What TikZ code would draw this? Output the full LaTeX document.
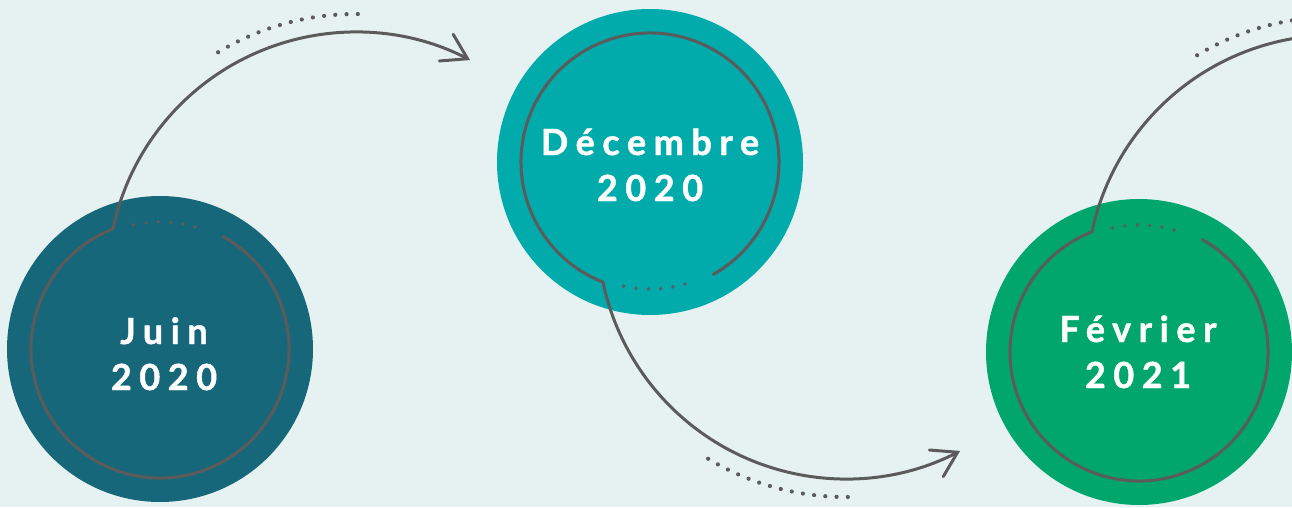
\documentclass[tikz,border=0pt]{standalone}
\usepackage{fontspec}
\setmainfont{Lato}
\newfontfamily\labfont{Lato}[LetterSpace=21, BoldFeatures={FakeBold=1.2}]
\usetikzlibrary{arrows.meta}
\definecolor{bg}{HTML}{E6F2F2}
\definecolor{cjuin}{HTML}{17677B}
\definecolor{cdec}{HTML}{02ABAB}
\definecolor{cfev}{HTML}{01A66C}
\definecolor{lgray}{HTML}{5B5B5B}
\tikzset{
  disc/.style={circle, inner sep=0pt, minimum size=306pt},
  ring/.style={draw=lgray, line width=3pt, line cap=round},
  conn/.style={draw=lgray, line width=3pt, line cap=round,
    -{Straight Barb[length=24pt,width=30pt,line cap=round]}},
  lbl/.style={text=white, font=\labfont\bfseries\fontsize{36}{40}\selectfont,
    inner sep=0pt, anchor=base},
  dot/.style={fill=lgray},
}
\begin{document}
\begin{tikzpicture}[x=1pt,y=1pt]
\useasboundingbox (0,0) rectangle (1292,507);
\fill[bg] (0,0) rectangle (1292,507);
\clip (0,0) rectangle (1292,507);
% discs
\node[disc, fill=cjuin] (c1) at (160,158) {};
\node[disc, fill=cdec]  (c2) at (650,345) {};
\node[disc, fill=cfev]  (c3) at (1139,155) {};
% connector circle centres
\coordinate (C1) at (355.5,227);
\coordinate (C2) at (845.5,276);
\coordinate (C3) at (1334.5,224);
% kinks
\path (c1.center) ++(111.4:129pt) coordinate (k1);
\path (c2.center) ++(248.6:129pt) coordinate (k2);
\path (c3.center) ++(111.4:129pt) coordinate (k3);
% rings
\draw[ring] (k1) arc[start angle=111.4, end angle=420.6, radius=129pt];
\draw[ring] (k2) arc[start angle=248.6, end angle=-60.6, radius=129pt];
\draw[ring] (k3) arc[start angle=111.4, end angle=420.6, radius=129pt];
% gap dots
\foreach \a in {0,...,5} {
  \fill[dot] (c1.center) ++({102-\a*5.6}:127pt) circle (1.9pt);
  \fill[dot] (c2.center) ++({-102+\a*5.6}:127pt) circle (1.9pt);
  \fill[dot] (c3.center) ++({102-\a*5.6}:127pt) circle (1.9pt);
}
% connectors
\draw[conn] (k1) arc[start angle=168.1, end angle=62.5, radius=248pt];
\draw[conn] (k2) arc[start angle=191.9, end angle=297.5, radius=248pt];
\draw[ring] (k3) arc[start angle=168.1, end angle=62.5, radius=248pt];
% dotted arcs
\foreach \a in {0,...,13} {
  \fill[dot] (C1) ++({121.1-\a*2.4308}:266pt) circle (2.1pt);
  \fill[dot] (C2) ++({-121.1+\a*2.4308}:266pt) circle (2.1pt);
  \fill[dot] (C3) ++({121.1-\a*2.4308}:266pt) circle (2.1pt);
}
% labels
\node[lbl] (t1) at (164,163) {Juin};
\node[lbl] (y1) at (164,117) {2020};
\node[lbl] (t2) at (650,352) {Décembre};
\node[lbl] (y2) at (650,306) {2020};
\node[lbl] (t3) at (1138,165) {Février};
\node[lbl] (y3) at (1138,119) {2021};
\end{tikzpicture}
\end{document}
